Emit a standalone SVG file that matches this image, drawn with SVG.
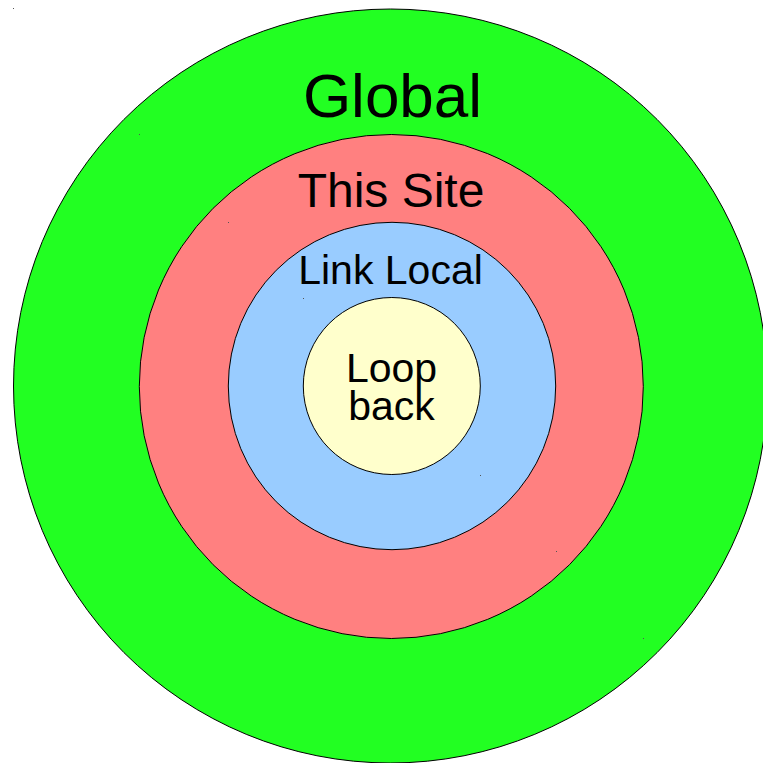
<svg xmlns="http://www.w3.org/2000/svg" width="763" height="763" viewBox="0 0 763 763">
  <style>
    .ring { stroke: #000000; stroke-width: 1; }
    .label { font-family: "Liberation Sans", Arial, sans-serif; fill: #000000; text-anchor: middle; }
    .mark { fill: #555555; }
  </style>
  <rect x="0" y="0" width="763" height="763" fill="#ffffff"/>

  <g id="global">
    <circle class="ring" cx="390.5" cy="386" r="377" fill="#22ff22"/>
    <text class="label" x="392.5" y="117" font-size="62">Global</text>
  </g>

  <g id="this-site">
    <circle class="ring" cx="391.3" cy="386.5" r="252" fill="#ff8080"/>
    <text class="label" x="391" y="207" font-size="48">This Site</text>
  </g>

  <g id="link-local">
    <circle class="ring" cx="392" cy="386" r="163.7" fill="#99ccff"/>
    <text class="label" x="390.5" y="284" font-size="41">Link Local</text>
  </g>

  <g id="loopback">
    <circle class="ring" cx="391.8" cy="386" r="88.5" fill="#ffffcc"/>
    <text class="label" x="391.5" y="382" font-size="41">Loop</text>
    <text class="label" x="391.5" y="420" font-size="41">back</text>
  </g>

  <!-- small corner marks left by each ring's bounding box -->
  <g id="marks">
    <rect class="mark" x="13" y="8" width="1" height="1"/>
    <rect class="mark" x="139" y="134" width="1" height="1"/>
    <rect class="mark" x="643" y="638" width="1" height="1"/>
    <rect class="mark" x="228" y="222" width="1" height="1"/>
    <rect class="mark" x="556" y="551" width="1" height="1"/>
    <rect class="mark" x="303" y="298" width="1" height="1"/>
    <rect class="mark" x="480" y="475" width="1" height="1"/>
  </g>

  <g id="connectors"/>
</svg>
